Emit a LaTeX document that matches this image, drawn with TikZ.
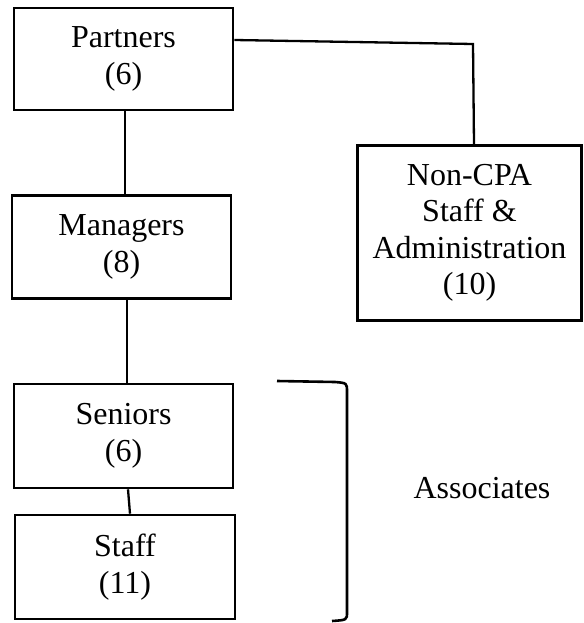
\documentclass[tikz,border=0pt]{standalone}
\usepackage{fontspec}
\setmainfont{Liberation Serif}
\begin{document}
\begin{tikzpicture}[x=1bp,y=-1bp,
  orgbox/.style={draw=black,line width=2.6bp,align=center,inner sep=0pt,
    font=\fontsize{32bp}{36.5bp}\selectfont},
  link/.style={draw=black,line width=2.3bp},
  lbl/.style={font=\fontsize{32bp}{36.5bp}\selectfont,inner sep=0pt}]
\useasboundingbox (0,0) rectangle (584,623);
\node[orgbox,minimum width=219bp,minimum height=102bp] (partners) at (123.5,59) {Partners\\(6)};
\node[orgbox,minimum width=219bp,minimum height=103bp] (managers) at (121.5,247) {Managers\\(8)};
\node[orgbox,minimum width=219bp,minimum height=104bp] (seniors) at (123.5,436) {Seniors\\(6)};
\node[orgbox,minimum width=220bp,minimum height=104bp] (staff) at (125,567) {Staff\\(11)};
\node[orgbox,minimum width=224bp,minimum height=175bp] (noncpa) at (469.5,233) {Non-CPA\\Staff \&\\Administration\\(10)};
\node[lbl,anchor=base] (assoc) at (482,498) {Associates};
\coordinate (corner) at (473,44);
\draw[link] ([xshift=1.5bp]partners.south) -- ([xshift=1.5bp]partners.south |- managers.north);
\draw[link] ([xshift=5.5bp]managers.south) -- ([xshift=5.5bp]managers.south |- seniors.north);
\draw[link] ([xshift=4.5bp]seniors.south) -- ([xshift=5bp]staff.north);
\draw[link] ([yshift=19bp]partners.east) -- (corner) -- ([xshift=4.5bp]noncpa.north);
\coordinate (b1) at (277,381);
\coordinate (b2) at (332,621);
\draw[link,line width=2.6bp] (b1) -- (335,382) .. controls (347,383) .. (347,392) -- (347,612) .. controls (347,620) .. (b2);
\end{tikzpicture}
\end{document}
